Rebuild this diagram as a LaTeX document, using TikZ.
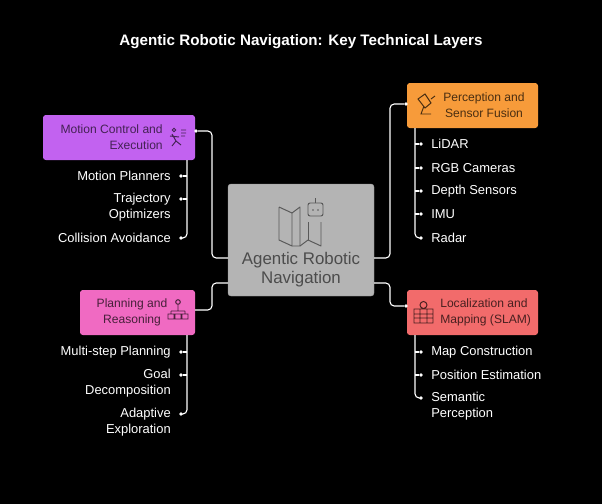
\documentclass[tikz,border=0pt]{standalone}
\usepackage{fontspec}
\setmainfont{Liberation Sans}
\usepackage{tikz}
\usetikzlibrary{positioning,calc}
\definecolor{motioncol}{HTML}{C262F0}
\definecolor{perccol}{HTML}{F79B3A}
\definecolor{plancol}{HTML}{F06AC2}
\definecolor{loccol}{HTML}{F26B6B}
\definecolor{hubcol}{HTML}{B4B4B4}

\begin{document}
\begin{tikzpicture}[
    x=0.25mm, y=-0.25mm,
    box/.style={rectangle, rounded corners=1.5pt, draw=none, inner sep=0pt, font=\fontsize{8.6}{11.3}\selectfont},
    item/.style={text=white, font=\fontsize{9.2}{11.3}\selectfont, inner sep=0pt},
    link/.style={draw=white, line width=0.8pt, rounded corners=3pt},
    tip/.style={circle, fill=white, inner sep=0pt, minimum size=2.8pt}
]
\fill[black] (0,0) rectangle (602,504);

% Title
\node[text=white, font=\bfseries\fontsize{10.8}{12}\selectfont] (title) at (301,42) {Agentic Robotic Navigation: Key Technical Layers};

% Hub
\fill[hubcol, draw=hubcol!80!black, line width=0.3pt, rounded corners=2pt] (228,184) rectangle (374,296);
\node[inner sep=0pt, minimum width=146*0.25mm, minimum height=112*0.25mm] (hub) at (301,240) {};
\node[align=center, text=black!70, font=\fontsize{12}{13.5}\selectfont] (hubtxt) at (301,270) {Agentic Robotic\\Navigation};
% hub icon
\draw[black!65, line width=0.7pt, line join=round] (279,207) -- (279,240) -- (292,246) -- (292,213) -- (279,207);
\draw[black!65, line width=0.7pt, line join=round] (292,213) -- (300,207) -- (300,246) -- (292,246);
\draw[black!65, line width=0.7pt, line join=round] (300,246) -- (308,240) -- (321,246) -- (321,222);
\draw[black!65, line width=0.7pt] (308,240) -- (308,222);
\draw[black!65, line width=0.7pt, rounded corners=1.5pt] (308,203) rectangle (323,216);
\draw[black!65, line width=0.7pt] (315.5,203) -- (315.5,198);
\fill[black!65] (313,210) circle (0.9) (318,210) circle (0.9);

% Motion box
\fill[motioncol, rounded corners=2pt] (43,115) rectangle (195,160);
\node[inner sep=0pt, minimum width=152*0.25mm, minimum height=45*0.25mm] (motion) at (119,137.5) {};
\node[box, align=right, text=motioncol!35!black, anchor=east] (motiontxt) at (163,137) {Motion Control and\\Execution};
\draw[motioncol!35!black, line width=0.7pt] (174,130) circle (1.8) (172,134) -- (176,141) -- (172,146) (176,141) -- (181,145) (170,136) -- (179,137) (181,130) -- (186,130) (181,133) -- (186,133) (181,136) -- (185,136);

% Perception box
\fill[perccol, rounded corners=2pt] (407,83) rectangle (538,128);
\node[inner sep=0pt, minimum width=131*0.25mm, minimum height=45*0.25mm] (perc) at (472.5,105.5) {};
\node[box, align=center, text=perccol!30!black] (perctxt) at (484,105) {Perception and\\Sensor Fusion};
\draw[perccol!30!black, line width=0.7pt] (418,99) -- (425,94) -- (431,103) -- (425,108) -- cycle (424,106) -- (421,114) -- (431,114) (431,99) -- (435,96);

% Planning box
\fill[plancol, rounded corners=2pt] (80,290) rectangle (195,335);
\node[inner sep=0pt, minimum width=115*0.25mm, minimum height=45*0.25mm] (plan) at (137.5,312.5) {};
\node[box, align=center, text=plancol!30!black] (plantxt) at (132,312) {Planning and\\Reasoning};
\draw[plancol!30!black, line width=0.7pt] (178,302) circle (2.3) (178,305) -- (178,311) (171,311) -- (185,311) (171,311) -- (171,314) (185,311) -- (185,314) (168,314) rectangle (174,319) (175,314) rectangle (181,319) (182,314) rectangle (188,319);

% Localization box
\fill[loccol, rounded corners=2pt] (407,290) rectangle (538,335);
\node[inner sep=0pt, minimum width=131*0.25mm, minimum height=45*0.25mm] (loc) at (472.5,312.5) {};
\node[box, align=left, text=loccol!30!black, anchor=west] (loctxt) at (440,312) {Localization and\\Mapping (SLAM)};
\draw[loccol!30!black, line width=0.7pt] (414,309) rectangle (433,323) (414,314) -- (433,314) (414,318) -- (433,318) (420,309) -- (420,323) (427,309) -- (427,323) (423.5,305) circle (3.5);

% Items left
\node[item, anchor=east] (mp) at (171,176) {Motion Planners};
\node[item, anchor=north east, align=right] (to) at (171,193) {Trajectory\\Optimizers};
\node[item, anchor=east] (ca) at (171,238) {Collision Avoidance};
\node[item, anchor=east] (msp) at (171,352) {Multi-step Planning};
\node[item, anchor=north east, align=right] (gd) at (171,369) {Goal\\Decomposition};
\node[item, anchor=north east, align=right] (ae) at (171,408) {Adaptive\\Exploration};
% Items right
\node[item, anchor=west] (lidar) at (431,144) {LiDAR};
\node[item, anchor=west] (rgb) at (431,168) {RGB Cameras};
\node[item, anchor=west] (depth) at (431,191) {Depth Sensors};
\node[item, anchor=west] (imu) at (431,214) {IMU};
\node[item, anchor=west] (radar) at (431,238) {Radar};
\node[item, anchor=west] (mc) at (431,352) {Map Construction};
\node[item, anchor=west] (pe) at (431,375) {Position Estimation};
\node[item, anchor=north west, align=left] (sp) at (431,392) {Semantic\\Perception};

% Hub links
\node[tip] (t1) at (196,131) {};
\node[tip] (t2) at (406,104) {};
\node[tip] (t4) at (406,306) {};
\coordinate (hl1) at (228,258);
\coordinate (hl2) at (228,283);
\coordinate (hr1) at (374,258);
\coordinate (hr2) at (374,283);
\coordinate (pl) at (195,310);
\draw[link] (t1) -- (212,131) -- (212,258) -- (hl1);
\draw[link] (t2) -- (390,104) -- (390,258) -- (hr1);
\draw[link] (pl) -- (212,310) -- (212,283) -- (hl2);
\draw[link] (t4) -- (390,306) -- (390,283) -- (hr2);

% List links
\coordinate (ms) at (187,160);
\coordinate (ps) at (187,335);
\coordinate (es) at (415,128);
\coordinate (ls) at (415,335);
\foreach \n/\y in {mp/176, to/199} {
  \node[tip] (d\n) at (181,\y) {};
  \draw[link] (187,\y) -- (d\n);
}
\node[tip] (dca) at (181,238) {};
\draw[link] (ms) -- (187,238) -- (dca);
\foreach \n/\y in {msp/352, gd/375} {
  \node[tip] (d\n) at (181,\y) {};
  \draw[link] (187,\y) -- (d\n);
}
\node[tip] (dae) at (181,414) {};
\draw[link] (ps) -- (187,414) -- (dae);
\foreach \n/\y in {lidar/144, rgb/168, depth/191, imu/214} {
  \node[tip] (d\n) at (421,\y) {};
  \draw[link] (415,\y) -- (d\n);
}
\node[tip] (dradar) at (421,238) {};
\draw[link] (es) -- (415,238) -- (dradar);
\foreach \n/\y in {mc/352, pe/375} {
  \node[tip] (d\n) at (421,\y) {};
  \draw[link] (415,\y) -- (d\n);
}
\node[tip] (dsp) at (421,398) {};
\draw[link] (ls) -- (415,398) -- (dsp);

\end{tikzpicture}
\end{document}
